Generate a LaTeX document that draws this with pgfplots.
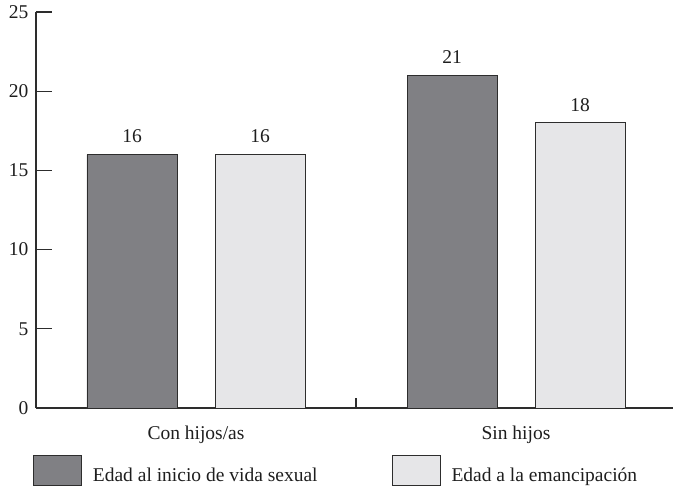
\documentclass[border=0pt]{standalone}
\usepackage{pgfplots}
\pgfplotsset{compat=1.18}
\usepackage{fontspec}
\setmainfont{Liberation Serif}
\definecolor{darkbar}{RGB}{128,128,132}
\definecolor{lightbar}{RGB}{230,230,232}
\definecolor{edge}{RGB}{45,45,45}
\definecolor{txt}{RGB}{30,30,30}
\begin{document}
\begin{tikzpicture}[font=\fontsize{19.5bp}{23bp}\selectfont]
\useasboundingbox (-36bp,-82bp) rectangle (637bp,408bp);
\begin{axis}[
  scale only axis,
  width=640bp, height=396bp,
  xmin=-0.5, xmax=1.5,
  ymin=0, ymax=25,
  axis x line=bottom, axis y line=left,
  axis line style={-, edge, line width=1.1bp},
  ytick={0,5,10,15,20,25},
  tick align=inside,
  major tick length=16bp,
  every tick/.style={edge, line width=1.1bp},
  xtick={0,1},
  xticklabels={Con hijos/as, Sin hijos},
  xtick style={draw=none},
  extra x ticks={0.5},
  extra x tick labels={},
  extra x tick style={xtick style={draw=edge}, tick align=inside, major tick length=10bp},
  /pgf/number format/assume math mode=true,
  yticklabel style={text=txt, xshift=-4bp},
  xticklabel style={text=txt, yshift=2bp},
  ybar, bar width=90bp,
  nodes near coords,
  nodes near coords style={text=txt, anchor=south, inner sep=0pt, yshift=11bp},
  legend columns=2,
  legend style={draw=none, fill=none, at={(-3bp,-47bp)}, anchor=north west,
     inner sep=0pt, outer sep=0pt, text=txt,
     /tikz/every even column/.append style={column sep=74bp},
     nodes={inner sep=0pt, text depth=0pt}},
  legend image code/.code={\draw[#1, line width=0.9bp] (0bp,-11bp) rectangle (48bp,19bp);},
  legend cell align=left,
]
\addplot[fill=darkbar, draw=edge, line width=0.9bp, bar shift=-64bp] coordinates {(0,16) (1,21)};
\addplot[fill=lightbar, draw=edge, line width=0.9bp, bar shift=64bp] coordinates {(0,16) (1,18)};
\legend{\hspace{11bp}Edad al inicio de vida sexual, \hspace{11bp}Edad a la emancipación}
\end{axis}
\end{tikzpicture}
\end{document}
